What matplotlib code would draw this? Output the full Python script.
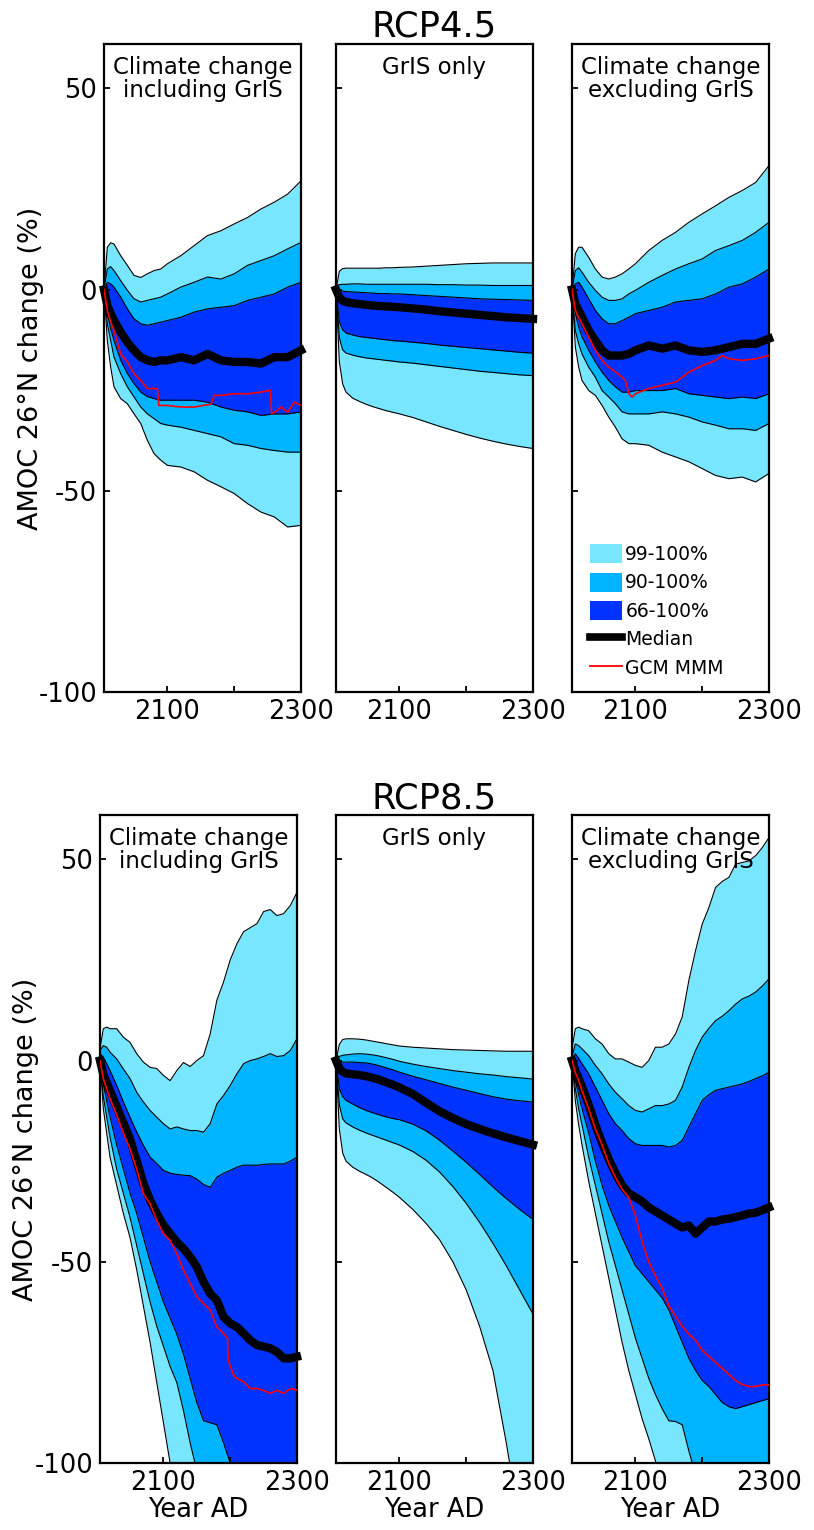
import matplotlib
matplotlib.use("Agg")
import matplotlib.pyplot as plt
from matplotlib.patches import Patch
from matplotlib.lines import Line2D

plt.rcParams['font.family'] = ['DejaVu Sans']
plt.rcParams['axes.unicode_minus'] = False

LIGHT = '#78e6ff'
MID = '#00b4ff'
DARK = '#0033ff'

# year grids
YEARS_45 = [2005, 2010, 2015, 2020, 2030, 2040, 2050, 2060, 2070, 2080, 2090, 2100,
            2120, 2140, 2160, 2180, 2200, 2220, 2240, 2260, 2280, 2300]
YEARS_85 = [2005, 2010, 2015, 2020, 2030, 2040, 2050, 2060, 2070, 2080, 2090, 2100,
            2110, 2120, 2130, 2140, 2150, 2160, 2170, 2180, 2190, 2200, 2210, 2220,
            2230, 2240, 2250, 2260, 2270, 2280, 2290, 2300]

# ---- RCP4.5, climate change including GrIS
inc45_u99 = [0, 10.5, 11.6, 11.3, 8.4, 6.0, 3.5, 3.0, 3.9, 4.7, 5.1, 6.4, 8.4, 10.9, 13.4, 14.6, 16.3, 17.9, 20.0, 21.7, 23.7, 27.0]
inc45_u90 = [0, 5.1, 5.7, 4.7, 2.2, -0.2, -2.3, -3.1, -2.7, -2.3, -1.9, -1.1, 0.6, 1.8, 3.1, 2.6, 3.9, 6.0, 7.2, 8.4, 10.1, 11.7]
inc45_u66 = [0, 1.8, 1.4, 0.6, -1.9, -4.8, -7.3, -8.5, -8.9, -8.5, -8.1, -7.7, -6.9, -5.6, -4.8, -4.4, -4.0, -2.7, -1.9, -1.1, 0.6, 1.8]
inc45_med = [0, -4.0, -6.0, -7.7, -10.6, -13.1, -15.1, -16.8, -17.6, -18.0, -17.6, -17.6, -16.8, -17.6, -16.0, -17.6, -18.0, -18.0, -18.4, -16.8, -16.8, -15.1]
inc45_l66 = [0, -6.0, -9.8, -12.7, -17.6, -20.9, -23.4, -25.5, -26.6, -27.1, -27.5, -27.5, -27.5, -27.5, -28.0, -29.2, -30.0, -30.4, -31.3, -30.9, -30.9, -30.4]
inc45_l90 = [0, -8.5, -12.7, -16.8, -20.9, -24.2, -26.7, -29.2, -30.9, -32.1, -33.3, -33.7, -34.2, -35.0, -35.8, -36.6, -38.3, -38.7, -39.5, -40.0, -40.4, -40.4]
inc45_l99 = [0, -12.7, -19.3, -24.2, -27.1, -28.4, -30.9, -33.3, -37.5, -40.8, -42.4, -43.7, -44.1, -45.3, -47.4, -49.0, -50.7, -53.2, -55.3, -56.5, -59.0, -58.6]
inc45_red_yr = [2005, 2010, 2015, 2020, 2030, 2040, 2050, 2060, 2070, 2085, 2087, 2100, 2120, 2140,
                2165, 2170, 2180, 2200, 2220, 2240, 2254, 2256, 2265, 2270, 2280, 2290, 2300]
inc45_red = [0, -5.2, -8.1, -10.2, -16.0, -18.0, -20.9, -22.6, -24.6, -24.6, -28.8, -28.8, -29.2, -29.2,
             -28.5, -26.3, -26.3, -25.9, -25.9, -25.5, -25.0, -30.9, -30.0, -29.2, -30.5, -28.0, -28.8]

# ---- RCP4.5, GrIS only
gris45_u99 = [0, 4.5, 5.2, 5.3, 5.3, 5.3, 5.3, 5.3, 5.3, 5.4, 5.4, 5.5, 5.6, 5.8, 6.0, 6.2, 6.4, 6.5, 6.6, 6.6, 6.6, 6.6]
gris45_u90 = [0, 1.2, 1.3, 1.3, 1.4, 1.4, 1.3, 1.3, 1.3, 1.3, 1.3, 1.3, 1.3, 1.3, 1.2, 1.2, 1.1, 1.1, 1.0, 1.0, 1.0, 1.0]
gris45_u66 = [0, -0.3, -0.4, -0.5, -0.6, -0.7, -0.8, -0.9, -1.0, -1.0, -1.1, -1.1, -1.3, -1.5, -1.7, -1.9, -2.1, -2.3, -2.4, -2.5, -2.6, -2.7]
gris45_med = [0, -2.0, -2.8, -3.1, -3.4, -3.6, -3.8, -4.0, -4.1, -4.2, -4.3, -4.4, -4.7, -5.0, -5.4, -5.7, -6.0, -6.3, -6.6, -6.9, -7.1, -7.3]
gris45_l66 = [0, -8.0, -10.0, -10.8, -11.3, -11.7, -11.9, -12.1, -12.3, -12.5, -12.7, -12.8, -13.1, -13.4, -13.8, -14.1, -14.4, -14.7, -15.0, -15.3, -15.6, -15.8]
gris45_l90 = [0, -12.0, -15.0, -15.8, -16.3, -16.7, -17.0, -17.2, -17.4, -17.6, -17.8, -18.0, -18.3, -18.7, -19.1, -19.5, -19.9, -20.3, -20.6, -20.9, -21.2, -21.4]
gris45_l99 = [0, -18.0, -23.5, -25.5, -27.0, -27.8, -28.5, -29.1, -29.6, -30.1, -30.5, -30.9, -31.8, -32.9, -34.0, -35.0, -36.0, -36.9, -37.7, -38.4, -39.0, -39.5]

# ---- RCP4.5, climate change excluding GrIS
exc45_u99 = [0, 8.9, 10.5, 10.5, 8.0, 5.1, 3.1, 2.6, 3.1, 3.9, 5.1, 6.4, 9.7, 12.2, 14.2, 16.7, 18.8, 20.8, 22.9, 24.6, 26.6, 30.8]
exc45_u90 = [0, 4.7, 5.4, 4.3, 1.8, -0.2, -1.9, -2.7, -2.7, -2.3, -1.1, -0.2, 1.8, 3.5, 5.1, 6.4, 7.6, 9.7, 10.9, 12.2, 14.2, 16.7]
exc45_u66 = [0, 1.4, 1.8, 0.6, -2.3, -5.2, -7.3, -8.5, -8.5, -7.7, -6.9, -6.0, -5.2, -4.4, -3.1, -2.7, -2.3, -1.1, 0.6, 1.4, 3.1, 5.1]
exc45_med = [0, -3.6, -5.2, -6.9, -10.2, -12.7, -15.1, -16.4, -16.4, -16.4, -16.0, -15.1, -13.9, -14.7, -13.9, -15.1, -15.5, -15.1, -14.3, -13.5, -13.5, -12.2]
exc45_l66 = [0, -6.0, -9.3, -11.8, -15.1, -18.0, -20.5, -22.6, -24.2, -25.5, -25.5, -25.1, -25.1, -25.1, -24.6, -25.9, -26.3, -26.7, -27.1, -26.7, -27.1, -25.9]
exc45_l90 = [0, -10.2, -13.5, -16.0, -19.3, -21.8, -25.1, -26.7, -28.4, -30.4, -30.9, -30.9, -30.9, -30.4, -30.9, -31.7, -32.9, -33.7, -34.6, -34.6, -35.0, -33.3]
exc45_l99 = [0, -14.3, -19.3, -22.6, -25.1, -26.3, -28.8, -31.7, -34.2, -37.1, -38.3, -38.3, -38.7, -40.4, -41.6, -42.8, -44.5, -46.2, -47.0, -46.6, -47.8, -45.7]
exc45_red_yr = [2005, 2010, 2015, 2020, 2030, 2040, 2050, 2060, 2070, 2080, 2085, 2090, 2095, 2100, 2120,
                2140, 2160, 2170, 2180, 2200, 2220, 2230, 2240, 2260, 2280, 2300]
exc45_red = [0, -5.2, -6.9, -8.5, -11.8, -15.1, -17.6, -19.3, -20.5, -21.8, -22.6, -25.9, -26.7, -25.9, -24.6,
             -23.8, -23.0, -21.8, -20.5, -18.9, -17.6, -16.4, -17.2, -17.6, -17.2, -16.4]

# ---- RCP8.5, climate change including GrIS
inc85_u99 = [3.0, 7.9, 8.3, 7.9, 7.9, 5.8, 4.5, 1.7, -0.4, -1.7, -2.0, -3.7, -5.0, -2.5, -0.5, -1.5, 0.0, 1.2, 6.6, 15.0,
             19.5, 25.0, 29.0, 32.0, 33.0, 34.0, 37.0, 37.5, 36.0, 36.5, 38.5, 41.8]
inc85_u90 = [2.5, 3.7, 3.3, 2.1, 0.4, -2.1, -4.5, -7.9, -10.3, -12.4, -14.1, -15.7, -17.0, -16.5, -17.0, -17.4, -17.4, -17.8,
             -15.7, -10.8, -8.7, -6.2, -3.3, -0.8, 0.0, 0.4, 1.0, 1.7, 1.0, 1.2, 2.5, 5.4]
inc85_u66 = [1.7, 0.8, -0.8, -2.5, -6.2, -10.3, -14.1, -17.8, -21.1, -24.0, -25.6, -27.3, -28.0, -28.3, -28.5, -28.6, -29.5,
             -30.8, -31.5, -29.0, -28.0, -27.3, -26.5, -26.0, -26.0, -26.0, -25.8, -25.7, -25.7, -25.7, -25.0, -24.0]
inc85_med = [0, -3.5, -5.5, -7.5, -11.5, -15.5, -19.5, -25.0, -30.5, -34.7, -38.0, -40.9, -43.0, -45.1, -46.7, -48.8, -51.3,
             -55.0, -57.9, -59.6, -63.7, -65.3, -66.2, -67.8, -69.5, -70.7, -71.1, -71.5, -72.4, -74.0, -74.0, -73.6]
inc85_l66 = [0, -6, -10, -14, -21, -27, -33, -38, -44, -50, -55, -60, -64, -68, -73, -79, -85, -89.5, -90, -90.5,
             -95, -100, -105, -110, -115, -120, -125, -130, -135, -140, -145, -150]
inc85_l90 = [0, -9, -14, -19, -27, -33, -39, -46, -53, -60, -66, -71, -76, -80, -87, -95, -102, -108, -114, -120,
             -126, -132, -138, -144, -150, -156, -162, -168, -174, -180, -186, -192]
inc85_l99 = [0, -12, -18, -24, -31, -38, -44, -52, -61, -70, -80, -90, -100, -110, -120, -130, -140, -150, -160, -170,
             -180, -190, -200, -210, -220, -230, -240, -250, -260, -270, -280, -290]
inc85_red_yr = [2005, 2010, 2015, 2020, 2030, 2040, 2050, 2060, 2070, 2080, 2090, 2100, 2110, 2120, 2130, 2140, 2150,
                2160, 2170, 2180, 2190, 2196, 2197, 2205, 2210, 2220, 2230, 2240, 2250, 2260, 2270, 2280, 2290, 2300]
inc85_red = [0, -4.5, -7.0, -9.5, -13.5, -18.0, -22.0, -27.0, -33.1, -35.6, -39.7, -43.0, -44.7, -48.0, -52.1, -55.4,
             -58.7, -60.4, -62.0, -66.2, -67.8, -69.0, -74.4, -78.2, -79.0, -79.8, -81.5, -81.5, -82.0, -82.7, -81.9,
             -82.7, -81.5, -81.9]

# ---- RCP8.5, GrIS only
gris85_u99 = [0, 4.0, 5.2, 5.4, 5.4, 5.3, 5.1, 4.8, 4.5, 4.2, 3.9, 3.6, 3.3, 3.1, 2.9, 2.7, 2.6, 2.5, 2.4, 2.3, 2.3, 2.3]
gris85_u90 = [0, 1.0, 1.3, 1.4, 1.6, 1.7, 1.6, 1.4, 1.1, 0.7, 0.3, -0.2, -0.9, -1.5, -2.0, -2.5, -2.9, -3.3, -3.6, -4.0, -4.3, -4.6]
gris85_u66 = [0, -0.2, -0.4, -0.4, -0.4, -0.5, -0.6, -0.9, -1.3, -1.8, -2.3, -2.9, -3.9, -4.8, -5.7, -6.6, -7.4, -8.2, -9.0, -9.6, -10.0, -10.3]
gris85_med = [0, -2.0, -2.8, -3.2, -3.4, -3.6, -3.9, -4.3, -4.8, -5.4, -6.0, -6.7, -8.3, -10.5, -12.6, -14.3, -15.8, -17.0, -18.1, -19.1, -20.0, -20.9]
gris85_l66 = [0, -7.0, -9.0, -9.9, -10.8, -11.7, -12.4, -13.0, -13.5, -14.0, -14.4, -14.7, -15.8, -17.5, -19.8, -22.5, -25.3, -28.3, -31.4, -34.3, -37.0, -39.5]
gris85_l90 = [0, -11.0, -14.5, -15.5, -16.5, -17.3, -18.0, -18.6, -19.2, -19.8, -20.4, -21.0, -22.6, -24.8, -27.7, -31.3, -35.5, -40.2, -45.4, -51.0, -57.0, -63.0]
gris85_l99 = [0, -17.0, -23.0, -25.0, -26.5, -27.5, -28.3, -29.2, -30.3, -31.5, -32.7, -34.0, -37.0, -40.5, -44.5, -50.0, -57.0, -66.0, -77.0, -95.0, -115.0, -135.0]

# ---- RCP8.5, climate change excluding GrIS
exc85_u99 = [3.0, 7.9, 8.3, 7.9, 7.4, 5.4, 4.1, 1.7, 0.4, 0.4, -0.4, -1.2, -1.7, 0.0, 3.3, 3.3, 4.1, 6.6, 10.8, 19.9,
             27.3, 33.9, 38.0, 43.0, 44.5, 45.5, 48.8, 49.2, 49.6, 50.9, 52.9, 55.4]
exc85_u90 = [1.0, 4.1, 3.7, 2.9, 1.2, -1.2, -3.3, -5.8, -7.9, -9.5, -11.2, -12.4, -12.8, -12.0, -11.2, -11.2, -10.8,
             -9.9, -6.6, -1.7, 2.5, 5.8, 8.0, 9.9, 11.0, 12.4, 14.0, 15.3, 16.0, 17.0, 18.5, 20.3]
exc85_u66 = [0, 1.7, 0.5, -0.8, -3.3, -6.6, -9.9, -13.2, -15.7, -17.4, -19.4, -20.7, -21.1, -21.1, -21.1, -21.1, -21.5,
             -21.1, -19.9, -16.5, -13.2, -9.9, -8.5, -7.4, -7.0, -6.6, -6.2, -5.8, -5.2, -4.5, -3.8, -2.9]
exc85_med = [0, -2.5, -4.5, -6.5, -11.0, -16.0, -20.5, -24.5, -28.0, -31.0, -33.0, -34.0, -35.0, -36.5, -37.5, -38.5,
             -39.5, -40.5, -41.5, -41.0, -43.0, -41.5, -40.0, -40.0, -39.5, -39.3, -38.9, -38.5, -38.0, -37.8, -37.2, -36.5]
exc85_l66 = [0, -5, -8.5, -12, -18, -25, -31, -36, -40, -44, -47.5, -51, -53, -55, -57, -59, -62, -66, -70, -74,
             -77, -79.5, -81, -83, -85, -86, -86.5, -86, -85.5, -85, -84.5, -84]
exc85_l90 = [0, -7, -12, -16, -24, -31, -38, -45, -51, -57, -63, -69, -74, -79, -83, -86.5, -89.5, -89.7, -90.5, -97,
             -103, -110, -115, -120, -125, -130, -135, -140, -145, -150, -155, -160]
exc85_l99 = [0, -10, -16, -21, -30, -38, -46, -54, -62, -70, -77, -83, -89, -94, -99.5, -105, -110, -115, -120, -125,
             -130, -135, -140, -145, -150, -155, -160, -165, -170, -175, -180, -185]
exc85_red = [0, -3.0, -5.0, -7.5, -12.0, -17.0, -21.0, -25.5, -29.0, -32.0, -34.0, -38.5, -45.0, -50.0, -53.5, -56.5,
             -61.0, -63.5, -66.0, -68.0, -69.5, -72.0, -73.5, -75.0, -76.5, -78.0, -79.5, -80.5, -81.0, -81.0, -80.6, -80.6]

TITLES = ['Climate change\nincluding GrIS', 'GrIS only', 'Climate change\nexcluding GrIS']
ROW_TITLES = ['RCP4.5', 'RCP8.5']

panels = [
    [(YEARS_45, [inc45_u99, inc45_u90, inc45_u66, inc45_l66, inc45_l90, inc45_l99], inc45_med, (inc45_red_yr, inc45_red)),
     (YEARS_45, [gris45_u99, gris45_u90, gris45_u66, gris45_l66, gris45_l90, gris45_l99], gris45_med, None),
     (YEARS_45, [exc45_u99, exc45_u90, exc45_u66, exc45_l66, exc45_l90, exc45_l99], exc45_med, (exc45_red_yr, exc45_red))],
    [(YEARS_85, [inc85_u99, inc85_u90, inc85_u66, inc85_l66, inc85_l90, inc85_l99], inc85_med, (inc85_red_yr, inc85_red)),
     (YEARS_45, [gris85_u99, gris85_u90, gris85_u66, gris85_l66, gris85_l90, gris85_l99], gris85_med, None),
     (YEARS_85, [exc85_u99, exc85_u90, exc85_u66, exc85_l66, exc85_l90, exc85_l99], exc85_med, (YEARS_85, exc85_red))],
]

W, H = 814, 1530
fig = plt.figure(figsize=(W / 100, H / 100), dpi=100)

# panel boxes in pixels
lefts = [[104, 336, 572], [100, 336, 572]]
tops = [44, 815]
pw, ph = 197, 648

for r in range(2):
    for c in range(3):
        x0 = lefts[r][c]
        ax = fig.add_axes([x0 / W, 1 - (tops[r] + ph) / H, pw / W, ph / H])
        yrs, bands, med, red = panels[r][c]
        u99, u90, u66, l66, l90, l99 = bands
        ax.fill_between(yrs, l99, u99, color=LIGHT, lw=0)
        ax.fill_between(yrs, l90, u90, color=MID, lw=0)
        ax.fill_between(yrs, l66, u66, color=DARK, lw=0)
        for b in bands:
            ax.plot(yrs, b, color='k', lw=0.8)
        ax.plot(yrs, med, color='k', lw=6, clip_on=False, zorder=5)
        if red is not None:
            ax.plot(red[0], red[1], color='red', lw=1.2, zorder=6)

        ax.set_xlim(2005, 2300)
        ax.set_ylim(-100, 61)
        ax.set_yticks([-100, -50, 0, 50])
        ax.set_xticks([2100, 2200, 2300])
        ax.set_xticklabels(['2100', '', '2300'])
        ax.tick_params(direction='in', length=4, width=1.3, labelsize=18.5,
                       top=False, right=False, pad=5)
        for s in ax.spines.values():
            s.set_linewidth(1.6)
        if c > 0:
            ax.set_yticklabels([])
        else:
            ax.set_ylabel('AMOC 26°N change (%)', fontsize=19.5)
            ax.yaxis.set_label_coords(-0.305 if r == 0 else -0.31, 0.5)
        if r == 1:
            ax.set_xlabel('Year AD', fontsize=18.5, labelpad=1)
        if c == 1:
            ax.set_title(ROW_TITLES[r], fontsize=25.5, pad=5)
        ax.text(0.5, 0.982, TITLES[c], transform=ax.transAxes, ha='center', va='top',
                fontsize=16.5, linespacing=1.0, zorder=7)

        if r == 0 and c == 2:
            handles = [Patch(facecolor=LIGHT, edgecolor='none'),
                       Patch(facecolor=MID, edgecolor='none'),
                       Patch(facecolor=DARK, edgecolor='none'),
                       Line2D([], [], color='k', lw=5.5),
                       Line2D([], [], color='red', lw=1.3)]
            labels = ['99-100%', '90-100%', '66-100%', 'Median', 'GCM MMM']
            ax.legend(handles, labels, loc='upper left', bbox_to_anchor=(0.09, 0.228),
                      frameon=False, fontsize=13.5, handlelength=1.7, handleheight=1.17,
                      handletextpad=0.2, labelspacing=0.46, borderpad=0, borderaxespad=0)

fig.savefig('out.png', dpi=100)
